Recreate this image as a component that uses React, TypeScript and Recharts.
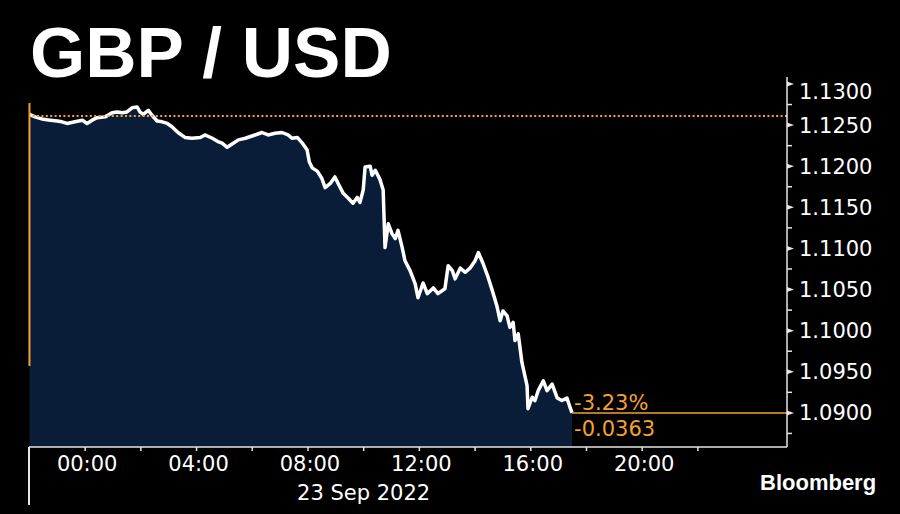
import React from 'react'
import { ComposedChart, Area, XAxis, YAxis, ReferenceLine } from 'recharts'

// minutes from 00:00 on 23 Sep 2022 (negative = previous evening)
const minutes = [
  -120, -108, -90, -75, -60, -50, -39, -22, -6, 4, 15, 26, 43, 58, 69, 80, 90, 101, 112, 118,
  125, 136, 144, 155, 166, 177, 187, 200, 215, 230, 248, 258, 274, 286, 295, 306, 319, 330, 345, 366,
  381, 394, 409, 424, 437, 446, 457, 468, 478, 483, 489, 500, 510, 517, 528, 538, 545, 556, 567, 577,
  586, 592, 599, 603, 614, 618, 625, 635, 642, 646, 653, 661, 668, 674, 683, 689, 700, 711, 717, 728,
  737, 750, 760, 775, 782, 791, 797, 808, 819, 829, 840, 847, 857, 868, 877, 887, 894, 900, 909, 915,
  922, 926, 933, 941, 952, 954, 963, 969, 976, 987, 995, 1006, 1017, 1027, 1038, 1045, 1049,
]
const prices = [
  1.1263, 1.126, 1.1257, 1.1256, 1.1255, 1.1254, 1.1252, 1.1254, 1.1256, 1.1252, 1.1256, 1.1259, 1.126, 1.1265, 1.1266, 1.1265, 1.1266, 1.1271, 1.1272, 1.1266,
  1.1263, 1.1268, 1.1262, 1.1255, 1.1254, 1.1252, 1.1248, 1.1241, 1.1235, 1.1234, 1.1235, 1.1238, 1.1234, 1.123, 1.1228, 1.1223, 1.1228, 1.1232, 1.1234, 1.1238,
  1.1241, 1.1238, 1.124, 1.1241, 1.1238, 1.1234, 1.1235, 1.1228, 1.122, 1.1205, 1.1198, 1.1194, 1.1185, 1.1174, 1.1179, 1.1187, 1.1179, 1.1167, 1.1161, 1.1155,
  1.1162, 1.1156, 1.1171, 1.1199, 1.12, 1.1189, 1.1195, 1.1184, 1.1171, 1.1101, 1.113, 1.1118, 1.1112, 1.1122, 1.1101, 1.1085, 1.1073, 1.1057, 1.104, 1.1058,
  1.1045, 1.1052, 1.1045, 1.1051, 1.1079, 1.1073, 1.1063, 1.1076, 1.1071, 1.1076, 1.1085, 1.1095, 1.1082, 1.1065, 1.1049, 1.103, 1.1012, 1.1024, 1.1018, 1.1004,
  1.101, 1.0988, 1.0996, 1.0961, 1.0933, 1.0905, 1.0919, 1.0915, 1.0927, 1.0939, 1.0927, 1.0935, 1.0918, 1.0915, 1.0918, 1.0906, 1.09,
]

const priceTicks = [
  1.0875, 1.09, 1.0925, 1.095, 1.0975, 1.1, 1.1025, 1.105, 1.1075, 1.11,
  1.1125, 1.115, 1.1175, 1.12, 1.1225, 1.125, 1.1275, 1.13,
]
const timeTicks = [0, 120, 240, 360, 480, 600, 720, 840, 960, 1080, 1200, 1320]

const prevClose = 1.1261
const lastPrice = 1.09
const lastMinute = 1049
const changePct = '-3.23%'
const changeAbs = '-0.0363'
const dateLabel = '23 Sep 2022'
const title = 'GBP / USD'

const ORANGE = '#f5a033'
const NAVY = '#0a1d38'
const AXIS = '#e6e6e6'
const FONT = '"DejaVu Sans", sans-serif'

const data = minutes.map((m, i) => ({ t: m, price: prices[i] }))

const fmtTime = (m: number) => {
  const h = Math.floor(m / 60)
  const mm = m % 60
  return `${String(h).padStart(2, '0')}:${String(mm).padStart(2, '0')}`
}

function PriceTick(props: any) {
  const { x, y, payload } = props
  const v = payload.value
  const ax = x - 12
  const major = Math.round(v * 10000) % 50 === 0
  if (!major) {
    return <line x1={ax} y1={y} x2={ax + 5} y2={y} stroke={AXIS} strokeWidth={1.5} />
  }
  const dy = v > 1.1299 ? 8 : 0
  return (
    <g>
      <path d={`M${ax},${y - 2.5} L${ax + 7},${y} L${ax},${y + 2.5} Z`} fill={AXIS} />
      <text x={ax + 12} y={y + dy + 7.5} fill="#ffffff" fontSize={21} fontFamily={FONT}>
        {v.toFixed(4)}
      </text>
    </g>
  )
}

function TimeTick(props: any) {
  const { x, y, payload } = props
  const m = payload.value
  const ay = y - 4
  return (
    <g>
      <line x1={x} y1={ay} x2={x} y2={ay + 4} stroke={AXIS} strokeWidth={1.5} />
      {m % 240 === 0 && (
        <text x={x + 2} y={ay + 24} fill="#ffffff" fontSize={21} fontFamily={FONT} textAnchor="middle">
          {fmtTime(m)}
        </text>
      )}
      {m === 600 && (
        <text x={x} y={ay + 53} fill="#ffffff" fontSize={21} fontFamily={FONT} textAnchor="middle">
          {dateLabel}
        </text>
      )}
    </g>
  )
}

function ChangeLabels(props: any) {
  const { viewBox } = props
  if (!viewBox) return null
  const { x, y } = viewBox
  return (
    <g>
      <text x={x + 2} y={y - 3} fill={ORANGE} fontSize={21} fontFamily={FONT}>{changePct}</text>
      <text x={x + 2} y={y + 23} fill={ORANGE} fontSize={21} fontFamily={FONT}>{changeAbs}</text>
    </g>
  )
}

export default function App() {
  return (
    <div style={{ position: 'absolute', left: 0, top: 0, width: 900, height: 514, background: '#000', overflow: 'hidden' }}>
      <ComposedChart width={900} height={514} data={data} margin={{ top: 77, right: 0, left: 29, bottom: 0 }}>
        <XAxis
          dataKey="t"
          type="number"
          domain={[-121, 1512]}
          ticks={timeTicks}
          interval={0}
          tick={<TimeTick />}
          tickLine={false}
          tickSize={4}
          tickMargin={0}
          axisLine={{ stroke: AXIS, strokeWidth: 1.5 }}
          height={67}
        />
        <YAxis
          orientation="right"
          type="number"
          domain={[1.08585, 1.13085]}
          ticks={priceTicks}
          interval={0}
          tick={<PriceTick />}
          tickLine={false}
          tickSize={6}
          tickMargin={6}
          axisLine={{ stroke: AXIS, strokeWidth: 1.5 }}
          width={113}
        />
        <Area
          type="linear"
          dataKey="price"
          stroke="#ffffff"
          strokeWidth={3.5}
          strokeLinejoin="round"
          fill={NAVY}
          fillOpacity={1}
          dot={false}
          activeDot={false}
          isAnimationActive={false}
        />
        <ReferenceLine y={prevClose} stroke={ORANGE} strokeWidth={2} strokeDasharray="2 2.4" />
        <ReferenceLine
          segment={[{ x: -120, y: 1.1277 }, { x: -120, y: 1.0957 }]}
          stroke={ORANGE}
          strokeWidth={2}
        />
        <ReferenceLine
          segment={[{ x: lastMinute, y: lastPrice }, { x: 1512, y: lastPrice }]}
          stroke={ORANGE}
          strokeWidth={1.5}
          label={<ChangeLabels />}
        />
      </ComposedChart>
      <div style={{ position: 'absolute', left: 28, top: 447, width: 2, height: 58, background: AXIS }} />
      <svg width={900} height={514} style={{ position: 'absolute', left: 0, top: 0, pointerEvents: 'none' }}>
        <text x={30} y={77} fill="#ffffff" fontSize={71} fontWeight="bold" fontFamily='"Liberation Sans", Arial, sans-serif'>
          {title}
        </text>
        <text x={760} y={490} fill="#ffffff" fontSize={22} fontWeight="bold" fontFamily='"Liberation Sans", Arial, sans-serif'>
          Bloomberg
        </text>
      </svg>
    </div>
  )
}
